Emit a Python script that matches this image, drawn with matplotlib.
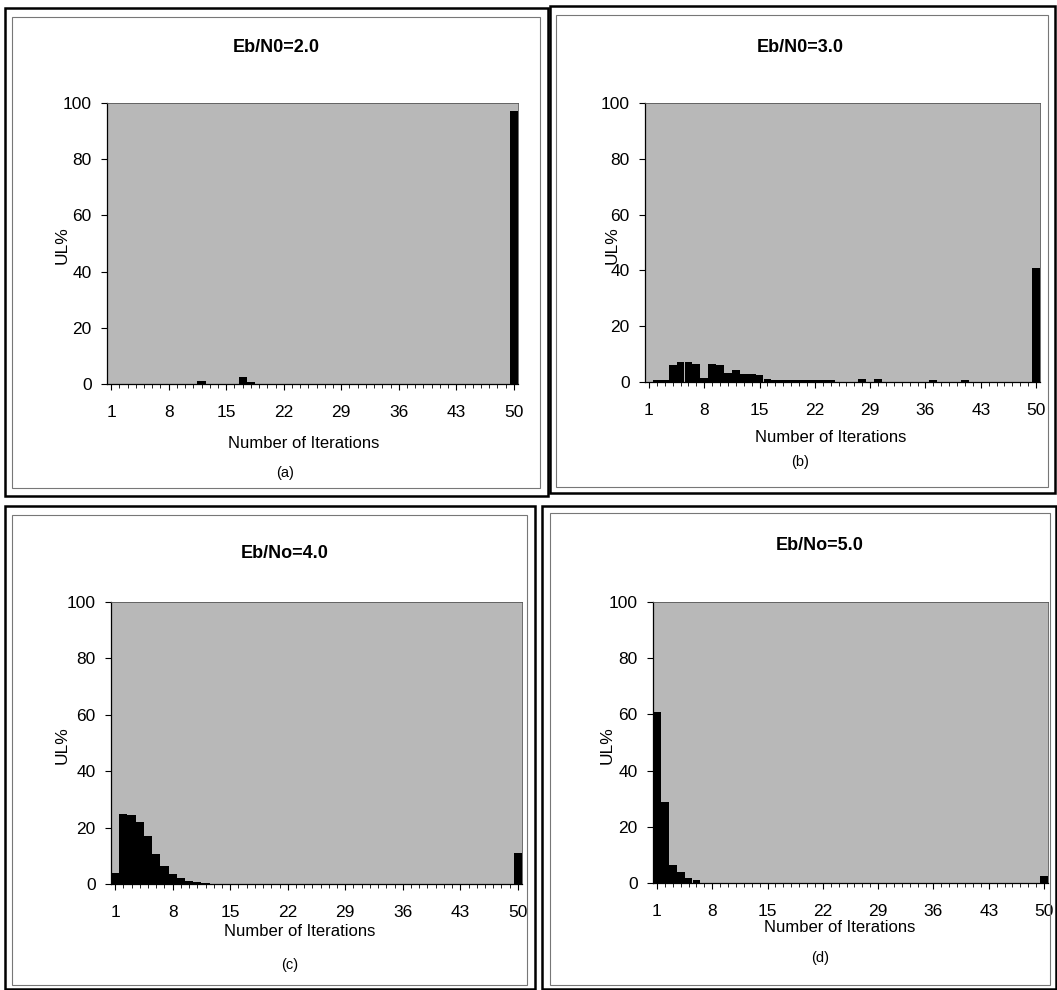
import matplotlib
matplotlib.use("Agg")
import matplotlib.pyplot as plt
from matplotlib.patches import Rectangle
import numpy as np

plt.rcParams['font.family'] = ['Liberation Sans', 'DejaVu Sans']

iterations = list(range(1, 51))
tick_labels = [1, 8, 15, 22, 29, 36, 43, 50]
yticks = [0, 20, 40, 60, 80, 100]

def series(d):
    return [d.get(k, 0.0) for k in iterations]

ul_a = series({12: 1.2, 17: 2.6, 18: 0.6, 50: 97.0})
ul_b = series({2: 0.8, 3: 0.8, 4: 6.2, 5: 7.0, 6: 7.3, 7: 6.6, 8: 1.5, 9: 6.6,
               10: 6.0, 11: 3.2, 12: 4.2, 13: 3.0, 14: 2.8, 15: 2.6, 16: 1.0,
               17: 0.8, 18: 0.8, 19: 0.7, 20: 0.7, 21: 0.7, 22: 0.7, 23: 0.6,
               24: 0.6, 28: 1.0, 30: 1.0, 37: 0.8, 41: 0.8, 50: 41.0})
ul_c = series({1: 4.0, 2: 25.0, 3: 24.5, 4: 22.0, 5: 17.0, 6: 10.5, 7: 6.5,
               8: 3.5, 9: 2.0, 10: 1.2, 11: 0.6, 12: 0.3, 50: 11.0})
ul_d = series({1: 61.0, 2: 29.0, 3: 6.5, 4: 4.0, 5: 1.8, 6: 1.0, 50: 2.5})

titles = ["Eb/N0=2.0", "Eb/N0=3.0", "Eb/No=4.0", "Eb/No=5.0"]
captions = ["(a)", "(b)", "(c)", "(d)"]
data = [ul_a, ul_b, ul_c, ul_d]

W, H = 1057, 990
fig = plt.figure(figsize=(W / 100, H / 100), dpi=100)
fig.patch.set_facecolor('white')

def frac_rect(l, t, r, b):
    return [l / W, 1 - b / H, (r - l) / W, (b - t) / H]

# panel frames (outer, inner)
frames = [
    ((5, 8, 548, 496), (12, 17, 540, 488)),
    ((550, 6, 1055, 493), (556, 15, 1048, 487)),
    ((5, 506, 535, 989), (12, 515, 527, 985)),
    ((542, 506, 1056, 989), (550, 513, 1050, 985)),
]
for (o, i) in frames:
    fig.patches.append(Rectangle((o[0] / W, 1 - o[3] / H), (o[2] - o[0]) / W, (o[3] - o[1]) / H,
                                 transform=fig.transFigure, fill=False, edgecolor='black', lw=1.8))
    fig.patches.append(Rectangle((i[0] / W, 1 - i[3] / H), (i[2] - i[0]) / W, (i[3] - i[1]) / H,
                                 transform=fig.transFigure, fill=False, edgecolor='#777777', lw=0.8))

axes_px = [
    (107, 103, 518, 384),
    (645, 103, 1040, 382),
    (111, 602, 522, 884),
    (653, 602, 1048, 883),
]
title_px = [(276, 47), (800, 47), (285, 553), (820, 545)]
ylab_px = [(62, 245), (612, 245), (62, 745), (607, 745)]
xlab_px = [(304, 444), (831, 438), (300, 932), (840, 928)]
cap_px = [(285, 473), (800, 462), (290, 965), (820, 958)]

for k in range(4):
    ax = fig.add_axes(frac_rect(*axes_px[k]))
    ax.set_facecolor('#b8b8b8')
    ax.bar(iterations, data[k], width=1.0, color='black', edgecolor='none')
    ax.set_xlim(0.5, 50.5)
    ax.set_ylim(0, 100)
    ax.set_yticks(yticks)
    ax.set_yticklabels([str(v) for v in yticks], fontsize=12.5)
    ax.set_xticks(tick_labels)
    ax.set_xticklabels([str(v) for v in tick_labels], fontsize=12.5)
    ax.set_xticks(iterations, minor=True)
    ax.tick_params(axis='x', which='major', length=4, width=0.8, pad=11)
    ax.tick_params(axis='x', which='minor', length=3, width=0.6)
    ax.tick_params(axis='y', length=4, width=0.8, pad=7)
    for s in ['left', 'bottom']:
        ax.spines[s].set_color('black')
        ax.spines[s].set_linewidth(0.9)
    for s in ['top', 'right']:
        ax.spines[s].set_color('#555555')
        ax.spines[s].set_linewidth(0.6)

    tx, ty = title_px[k]
    fig.text(tx / W, 1 - ty / H, titles[k], ha='center', va='center', fontsize=13, fontweight='bold')
    yx, yy = ylab_px[k]
    fig.text(yx / W, 1 - yy / H, "UL%", ha='center', va='center', rotation=90, fontsize=12.5)
    xx, xy = xlab_px[k]
    fig.text(xx / W, 1 - xy / H, "Number of Iterations", ha='center', va='center', fontsize=12)
    cx, cy = cap_px[k]
    fig.text(cx / W, 1 - cy / H, captions[k], ha='center', va='center', fontsize=10.5)

fig.savefig("out.png", dpi=100, facecolor='white')
